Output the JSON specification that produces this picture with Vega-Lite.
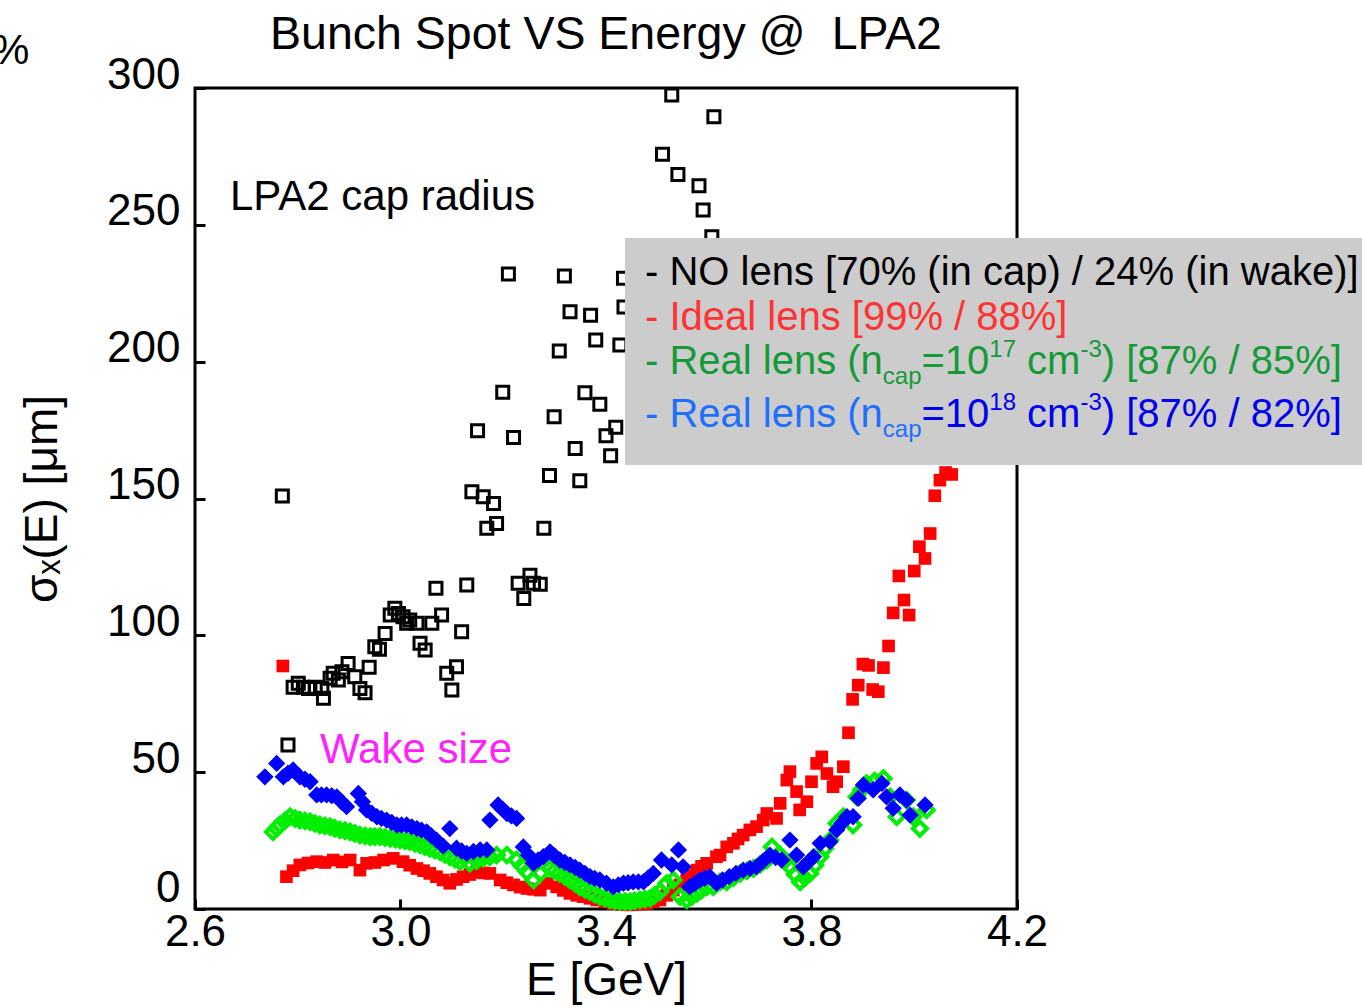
{
  "$schema": "https://vega.github.io/schema/vega-lite/v6.json",
  "width": 822,
  "height": 821,
  "autosize": {"type": "none"},
  "padding": {"left": 195, "top": 88, "right": 345, "bottom": 98},
  "background": "white",
  "config": {
    "view": {"stroke": "black", "strokeWidth": 3},
    "font": "Liberation Sans"
  },
  "title": {
    "text": "Bunch Spot VS Energy @\u00a0 LPA2",
    "fontSize": 46.5,
    "font": "Liberation Sans",
    "fontWeight": "normal",
    "color": "black",
    "anchor": "middle",
    "frame": "group",
    "offset": -28
  },
  "datasets": {
    "noLens": [
      {"E":2.770,"s":150.9},{"E":2.781,"s":59.9},{"E":2.791,"s":81.0},{"E":2.801,"s":82.5},{"E":2.811,"s":81.0},
      {"E":2.821,"s":80.6},{"E":2.834,"s":81.0},{"E":2.847,"s":80.6},{"E":2.850,"s":77.0},{"E":2.863,"s":84.3},
      {"E":2.869,"s":86.1},{"E":2.879,"s":83.7},{"E":2.886,"s":86.7},{"E":2.898,"s":89.7},{"E":2.911,"s":84.9},
      {"E":2.921,"s":80.6},{"E":2.931,"s":79.0},{"E":2.939,"s":88.3},{"E":2.950,"s":95.8},{"E":2.959,"s":94.9},
      {"E":2.970,"s":100.7},{"E":2.980,"s":107.4},{"E":2.989,"s":109.9},{"E":2.996,"s":108.0},{"E":3.005,"s":106.8},
      {"E":3.012,"s":104.4},{"E":3.018,"s":105.6},{"E":3.032,"s":104.4},{"E":3.038,"s":97.1},{"E":3.048,"s":94.6},
      {"E":3.061,"s":104.4},{"E":3.080,"s":107.4},{"E":3.069,"s":117.2},{"E":3.090,"s":86.1},{"E":3.109,"s":88.5},
      {"E":3.100,"s":80.0},{"E":3.119,"s":101.3},{"E":3.129,"s":118.4},{"E":3.139,"s":152.5},{"E":3.161,"s":150.6},
      {"E":3.181,"s":148.2},{"E":3.168,"s":139.1},{"E":3.187,"s":140.9},{"E":3.210,"s":232.0},{"E":3.319,"s":231.3},
      {"E":3.434,"s":230.5},{"E":3.330,"s":218.2},{"E":3.370,"s":217.0},{"E":3.380,"s":207.9},{"E":3.427,"s":206.1},
      {"E":3.435,"s":220.0},{"E":3.309,"s":203.9},{"E":3.199,"s":188.8},{"E":3.359,"s":188.6},{"E":3.388,"s":184.4},
      {"E":3.299,"s":179.9},{"E":3.150,"s":174.8},{"E":3.220,"s":172.3},{"E":3.419,"s":176.0},{"E":3.400,"s":172.9},
      {"E":3.340,"s":168.3},{"E":3.409,"s":165.6},{"E":3.290,"s":158.4},{"E":3.349,"s":156.5},{"E":3.279,"s":139.1},
      {"E":3.252,"s":122.0},{"E":3.229,"s":119.0},{"E":3.272,"s":118.7},{"E":3.259,"s":119.0},{"E":3.240,"s":113.5},
      {"E":3.528,"s":297.4},{"E":3.610,"s":289.5},{"E":3.510,"s":275.8},{"E":3.540,"s":268.4},{"E":3.581,"s":264.3},
      {"E":3.589,"s":255.4},{"E":3.606,"s":245.6}
    ],
    "ideal": [
      {"E":2.771,"s":88.8},{"E":2.778,"s":11.8},{"E":2.791,"s":14.0},{"E":2.804,"s":16.1},{"E":2.820,"s":16.8},{"E":2.837,"s":17.3},{"E":2.853,"s":17.0},{"E":2.869,"s":17.9},
      {"E":2.886,"s":17.2},{"E":2.902,"s":17.9},{"E":2.921,"s":14.2},{"E":2.934,"s":16.7},{"E":2.950,"s":17.0},{"E":2.967,"s":17.9},{"E":2.986,"s":18.5},
      {"E":3.005,"s":17.3},{"E":3.018,"s":16.0},{"E":3.032,"s":14.8},{"E":3.045,"s":14.0},{"E":3.057,"s":13.0},{"E":3.070,"s":11.8},{"E":3.083,"s":10.6},{"E":3.096,"s":9.4},
      {"E":3.109,"s":10.8},{"E":3.122,"s":11.8},{"E":3.135,"s":12.6},{"E":3.148,"s":13.6},{"E":3.161,"s":13.2},{"E":3.174,"s":13.0},{"E":3.194,"s":10.6},{"E":3.207,"s":9.6},{"E":3.220,"s":8.8},
      {"E":3.233,"s":8.0},{"E":3.246,"s":7.5},{"E":3.259,"s":7.2},{"E":3.272,"s":6.9},{"E":3.285,"s":9.4},{"E":3.304,"s":8.1},{"E":3.317,"s":6.8},{"E":3.330,"s":5.7},
      {"E":3.343,"s":5.0},{"E":3.356,"s":4.5},{"E":3.369,"s":3.9},{"E":3.382,"s":3.3},{"E":3.398,"s":2.6},{"E":3.414,"s":2.0},{"E":3.430,"s":1.7},{"E":3.447,"s":1.5},{"E":3.463,"s":1.7},{"E":3.479,"s":2.0},
      {"E":3.492,"s":2.6},{"E":3.505,"s":3.3},{"E":3.518,"s":5.0},{"E":3.531,"s":6.9},{"E":3.544,"s":8.8},{"E":3.557,"s":10.6},{"E":3.567,"s":12.4},{"E":3.577,"s":14.2},{"E":3.586,"s":15.6},{"E":3.596,"s":16.7},
      {"E":3.615,"s":19.1},{"E":3.622,"s":19.7},{"E":3.635,"s":22.7},{"E":3.648,"s":24.0},{"E":3.657,"s":25.6},{"E":3.667,"s":27.0},
      {"E":3.680,"s":28.9},{"E":3.693,"s":30.1},{"E":3.706,"s":32.5},{"E":3.713,"s":34.9},{"E":3.732,"s":33.1},
      {"E":3.739,"s":38.6},{"E":3.752,"s":47.1},{"E":3.758,"s":50.2},{"E":3.771,"s":42.9},{"E":3.777,"s":36.2},
      {"E":3.791,"s":39.2},{"E":3.800,"s":46.5},{"E":3.810,"s":53.2},{"E":3.820,"s":55.6},{"E":3.830,"s":49.5},
      {"E":3.842,"s":44.7},{"E":3.849,"s":46.5},{"E":3.862,"s":52.0},{"E":3.872,"s":64.4},{"E":3.880,"s":76.6},
      {"E":3.891,"s":81.8},{"E":3.900,"s":89.5},{"E":3.911,"s":89.0},{"E":3.919,"s":80.2},{"E":3.930,"s":79.4},
      {"E":3.940,"s":88.2},{"E":3.950,"s":96.1},{"E":3.959,"s":108.2},{"E":3.980,"s":112.9},{"E":3.990,"s":107.4},
      {"E":3.970,"s":121.7},{"E":4.000,"s":123.5},{"E":4.021,"s":128.1},{"E":4.010,"s":132.4},{"E":4.031,"s":137.2},
      {"E":4.040,"s":151.0},{"E":4.050,"s":156.7},{"E":4.061,"s":159.5},{"E":4.073,"s":158.8}
    ],
    "real17": [
      {"E":2.752,"s":28.2},{"E":2.759,"s":29.5},{"E":2.765,"s":30.7},{"E":2.775,"s":32.2},{"E":2.785,"s":33.7},{"E":2.795,"s":33.0},{"E":2.804,"s":32.5},{"E":2.814,"s":32.2},{"E":2.824,"s":31.9},
      {"E":2.833,"s":31.3},{"E":2.843,"s":30.7},{"E":2.853,"s":30.4},{"E":2.863,"s":30.1},{"E":2.872,"s":29.5},{"E":2.882,"s":28.9},{"E":2.892,"s":28.6},{"E":2.902,"s":28.2},{"E":2.911,"s":27.6},{"E":2.921,"s":27.0},
      {"E":2.931,"s":26.7},{"E":2.941,"s":26.4},{"E":2.950,"s":26.4},{"E":2.960,"s":26.4},{"E":2.970,"s":26.1},{"E":2.980,"s":25.8},{"E":2.990,"s":25.5},{"E":2.999,"s":25.2},{"E":3.009,"s":24.9},{"E":3.018,"s":24.6},
      {"E":3.028,"s":24.0},{"E":3.038,"s":23.4},{"E":3.047,"s":22.8},{"E":3.057,"s":22.2},{"E":3.067,"s":21.5},{"E":3.077,"s":20.9},{"E":3.086,"s":20.0},{"E":3.096,"s":19.1},{"E":3.106,"s":18.2},{"E":3.116,"s":17.3},
      {"E":3.135,"s":16.7},{"E":3.148,"s":17.6},{"E":3.161,"s":18.5},{"E":3.174,"s":19.1},{"E":3.187,"s":19.7},{"E":3.207,"s":19.7},{"E":3.226,"s":17.9},
      {"E":3.236,"s":15.8},{"E":3.246,"s":13.6},{"E":3.259,"s":10.6},{"E":3.272,"s":13.0},{"E":3.291,"s":14.8},{"E":3.300,"s":14.0},{"E":3.310,"s":13.0},
      {"E":3.320,"s":11.8},{"E":3.330,"s":10.6},{"E":3.340,"s":9.4},{"E":3.349,"s":8.1},{"E":3.359,"s":7.2},{"E":3.369,"s":6.3},{"E":3.378,"s":5.4},{"E":3.388,"s":4.5},{"E":3.398,"s":3.9},{"E":3.408,"s":3.3},
      {"E":3.417,"s":3.0},{"E":3.427,"s":2.7},{"E":3.437,"s":2.7},{"E":3.447,"s":2.7},{"E":3.456,"s":3.0},{"E":3.466,"s":3.3},{"E":3.476,"s":3.6},{"E":3.486,"s":3.9},{"E":3.495,"s":5.1},{"E":3.505,"s":6.3},
      {"E":3.518,"s":9.4},{"E":3.531,"s":10.6},{"E":3.544,"s":4.5},{"E":3.557,"s":3.3},{"E":3.567,"s":4.5},{"E":3.577,"s":5.7},{"E":3.586,"s":6.9},
      {"E":3.596,"s":8.1},{"E":3.609,"s":8.1},{"E":3.622,"s":9.9},{"E":3.635,"s":9.9},{"E":3.648,"s":11.5},{"E":3.661,"s":13.0},{"E":3.674,"s":13.9},
      {"E":3.687,"s":14.8},{"E":3.700,"s":16.3},{"E":3.713,"s":17.9},{"E":3.723,"s":22.7},{"E":3.739,"s":19.7},{"E":3.748,"s":17.5},{"E":3.758,"s":15.4},
      {"E":3.768,"s":12.6},{"E":3.778,"s":9.9},{"E":3.787,"s":11.4},{"E":3.797,"s":13.0},{"E":3.807,"s":16.0},{"E":3.817,"s":19.1},{"E":3.826,"s":22.1},{"E":3.836,"s":25.2},{"E":3.849,"s":31.3},
      {"E":3.862,"s":33.7},{"E":3.881,"s":30.7},{"E":3.888,"s":41.0},{"E":3.897,"s":43.5},{"E":3.907,"s":45.9},{"E":3.923,"s":46.8},{"E":3.940,"s":47.7},
      {"E":3.953,"s":41.0},{"E":3.966,"s":33.7},{"E":3.985,"s":39.8},{"E":3.998,"s":33.7},{"E":4.011,"s":29.4},
      {"E":4.024,"s":36.2}
    ],
    "real18": [
      {"E":2.736,"s":48.3},{"E":2.759,"s":53.2},{"E":2.772,"s":48.3},{"E":2.781,"s":49.6},{"E":2.791,"s":50.8},{"E":2.804,"s":48.3},{"E":2.814,"s":47.4},
      {"E":2.824,"s":46.5},{"E":2.837,"s":41.7},{"E":2.846,"s":41.7},{"E":2.856,"s":41.7},{"E":2.866,"s":41.4},{"E":2.876,"s":41.0},{"E":2.885,"s":39.2},{"E":2.895,"s":37.4},
      {"E":2.918,"s":42.2},{"E":2.926,"s":39.2},{"E":2.934,"s":36.2},{"E":2.944,"s":35.0},{"E":2.954,"s":33.7},{"E":2.963,"s":33.1},{"E":2.973,"s":32.5},{"E":2.983,"s":31.6},{"E":2.993,"s":30.7},
      {"E":3.002,"s":30.7},{"E":3.012,"s":30.7},{"E":3.022,"s":30.0},{"E":3.032,"s":29.4},{"E":3.041,"s":28.8},{"E":3.051,"s":28.2},{"E":3.060,"s":26.7},{"E":3.070,"s":25.2},{"E":3.083,"s":23.0},{"E":3.096,"s":29.4},
      {"E":3.109,"s":22.2},{"E":3.119,"s":21.2},{"E":3.129,"s":20.3},{"E":3.142,"s":21.0},{"E":3.155,"s":21.6},{"E":3.168,"s":21.6},{"E":3.174,"s":32.5},
      {"E":3.190,"s":38.0},{"E":3.199,"s":36.4},{"E":3.207,"s":34.9},{"E":3.216,"s":34.0},{"E":3.226,"s":33.1},{"E":3.239,"s":22.7},{"E":3.249,"s":19.7},{"E":3.259,"s":16.7},
      {"E":3.268,"s":17.9},{"E":3.278,"s":19.1},{"E":3.291,"s":20.9},{"E":3.300,"s":19.4},{"E":3.310,"s":17.9},{"E":3.320,"s":17.0},{"E":3.330,"s":16.1},{"E":3.340,"s":15.2},{"E":3.349,"s":14.2},
      {"E":3.359,"s":13.0},{"E":3.369,"s":11.8},{"E":3.378,"s":11.2},{"E":3.388,"s":10.6},{"E":3.401,"s":9.4},{"E":3.414,"s":8.1},{"E":3.424,"s":8.8},{"E":3.434,"s":9.4},{"E":3.443,"s":9.6},{"E":3.453,"s":9.9},
      {"E":3.463,"s":9.9},{"E":3.473,"s":9.9},{"E":3.482,"s":11.4},{"E":3.492,"s":13.0},{"E":3.508,"s":17.9},{"E":3.528,"s":16.1},{"E":3.541,"s":21.6},
      {"E":3.550,"s":15.4},{"E":3.563,"s":8.1},{"E":3.573,"s":9.3},{"E":3.583,"s":10.6},{"E":3.592,"s":11.2},{"E":3.602,"s":11.8},{"E":3.615,"s":9.4},{"E":3.627,"s":10.6},
      {"E":3.640,"s":11.8},{"E":3.653,"s":13.0},{"E":3.667,"s":14.2},{"E":3.680,"s":14.8},{"E":3.693,"s":15.4},{"E":3.706,"s":17.5},{"E":3.719,"s":19.7},{"E":3.730,"s":18.8},{"E":3.742,"s":17.9},
      {"E":3.758,"s":25.2},{"E":3.771,"s":19.7},{"E":3.784,"s":15.4},{"E":3.794,"s":17.2},{"E":3.804,"s":19.1},{"E":3.817,"s":24.0},
      {"E":3.836,"s":24.6},{"E":3.849,"s":28.9},{"E":3.859,"s":31.3},{"E":3.869,"s":33.7},{"E":3.881,"s":33.7},{"E":3.891,"s":40.4},
      {"E":3.901,"s":45.3},{"E":3.920,"s":43.5},{"E":3.937,"s":45.9},{"E":3.946,"s":41.0},{"E":3.959,"s":36.8},
      {"E":3.972,"s":41.7},{"E":3.985,"s":39.8},{"E":3.992,"s":34.3},{"E":4.021,"s":38.0}
    ],
    "box": [{"E":3.437,"E2":4.9,"s":162.2,"s2":245.2}],
    "legendMain": [
      {"E":3.4759,"s":228.17,"t":"- NO lens [70% (in cap) / 24% (in wake)]","tone":"black"},
      {"E":3.4759,"s":211.55,"t":"- Ideal lens [99% / 88%]","tone":"red"},
      {"E":3.4759,"s":195.47,"t":"- Real lens (n","tone":"green"},
      {"E":4.0141,"s":195.47,"t":"=10","tone":"green"},
      {"E":4.2197,"s":195.47,"t":"cm","tone":"green"},
      {"E":4.3649,"s":195.47,"t":") [87% / 85%]","tone":"green"},
      {"E":3.4759,"s":176.11,"t":"- Real lens (n","tone":"lightblue"},
      {"E":4.0141,"s":176.11,"t":"=10","tone":"blue"},
      {"E":4.2197,"s":176.11,"t":"cm","tone":"blue"},
      {"E":4.3649,"s":176.11,"t":") [87% / 82%]","tone":"blue"}
    ],
    "legendScript": [
      {"E":3.9388,"s":191.82,"t":"cap","tone":"green"},
      {"E":4.1461,"s":201.68,"t":"17","tone":"green"},
      {"E":4.3234,"s":201.68,"t":"-3","tone":"green"},
      {"E":3.9388,"s":172.45,"t":"cap","tone":"lightblue"},
      {"E":4.1461,"s":182.32,"t":"18","tone":"blue"},
      {"E":4.3234,"s":182.32,"t":"-3","tone":"blue"}
    ],
    "notes": [
      {"E":2.6681,"s":255.4,"t":"LPA2 cap radius","tone":"black"},
      {"E":2.8433,"s":53.35,"t":"Wake size","tone":"magenta"},
      {"E":2.2049,"s":308.7,"t":"%","tone":"black"}
    ]
  },
  "layer": [
    {
      "data": {"name": "noLens"},
      "mark": {"type": "point", "shape": "square", "filled": false, "stroke": "black", "strokeWidth": 3, "size": 144, "opacity": 1},
      "encoding": {
        "x": {
          "field": "E", "type": "quantitative",
          "scale": {"domain": [2.6, 4.2], "nice": false, "zero": false},
          "axis": {
            "title": "E [GeV]",
            "values": [2.6, 3.0, 3.4, 3.8, 4.2],
            "format": ".1f",
            "domain": false,
            "grid": false,
            "ticks": true,
            "labelFlush": false,
            "labelOverlap": false,
            "labelFont": "Liberation Sans",
            "labelFontSize": 44,
            "labelColor": "black",
            "labelPadding": 11,
            "tickSize": -10,
            "tickWidth": 3,
            "tickColor": "black",
            "tickOpacity": 1,
            "titleFont": "Liberation Sans",
            "titleFontSize": 46,
            "titleFontWeight": "normal",
            "titleColor": "black",
            "titlePadding": 4
          }
        },
        "y": {
          "field": "s", "type": "quantitative",
          "scale": {"domain": [0, 300], "nice": false, "zero": false},
          "axis": {
            "title": "σₓ(E) [μm]",
            "values": [0, 50, 100, 150, 200, 250, 300],
            "domain": false,
            "grid": false,
            "ticks": true,
            "labelOverlap": false,
            "labelFlush": false,
            "labelFont": "Liberation Sans",
            "labelFontSize": 44,
            "labelColor": "black",
            "labelPadding": 25,
            "labelOffset": {"condition": {"test": "datum.value == 0", "value": -21}, "value": -13},
            "tickSize": -10,
            "tickWidth": 3,
            "tickColor": "black",
            "tickOpacity": 1,
            "titleFont": "Liberation Sans",
            "titleFontSize": 46,
            "titleFontWeight": "normal",
            "titleColor": "black",
            "titlePadding": 40
          }
        }
      }
    },
    {
      "data": {"name": "ideal"},
      "mark": {"type": "square", "color": "#ff0000", "size": 160, "opacity": 1},
      "encoding": {
        "x": {"field": "E", "type": "quantitative"},
        "y": {"field": "s", "type": "quantitative"}
      }
    },
    {
      "data": {"name": "real17"},
      "mark": {"type": "point", "shape": "diamond", "filled": false, "stroke": "#00ee00", "strokeWidth": 4, "size": 200, "opacity": 1},
      "encoding": {
        "x": {"field": "E", "type": "quantitative"},
        "y": {"field": "s", "type": "quantitative"}
      }
    },
    {
      "data": {"name": "real18"},
      "mark": {"type": "point", "shape": "diamond", "filled": true, "color": "#0000ff", "size": 300, "opacity": 1},
      "encoding": {
        "x": {"field": "E", "type": "quantitative"},
        "y": {"field": "s", "type": "quantitative"}
      }
    },
    {
      "mark": {"type": "rule", "color": "black", "strokeWidth": 3, "strokeDash": [6, 4]},
      "encoding": {"y": {"datum": 250}}
    },
    {
      "mark": {"type": "rule", "color": "#ff00ff", "strokeWidth": 3, "strokeDash": [6, 5]},
      "encoding": {"y": {"datum": 70}}
    },
    {
      "data": {"name": "box"},
      "mark": {"type": "rect", "color": "#cccccc", "opacity": 1},
      "encoding": {
        "x": {"field": "E", "type": "quantitative"},
        "x2": {"field": "E2"},
        "y": {"field": "s", "type": "quantitative"},
        "y2": {"field": "s2"}
      }
    },
    {
      "data": {"name": "legendMain"},
      "mark": {"type": "text", "align": "left", "baseline": "alphabetic", "font": "Liberation Sans", "fontSize": 40},
      "encoding": {
        "x": {"field": "E", "type": "quantitative"},
        "y": {"field": "s", "type": "quantitative"},
        "text": {"field": "t"},
        "color": {
          "field": "tone", "type": "nominal", "legend": null,
          "scale": {"domain": ["black", "red", "green", "lightblue", "blue", "magenta"], "range": ["#000000", "#ff3333", "#159a38", "#1f6fff", "#0000ee", "#ff22ff"]}
        }
      }
    },
    {
      "data": {"name": "legendScript"},
      "mark": {"type": "text", "align": "left", "baseline": "alphabetic", "font": "Liberation Sans", "fontSize": 24},
      "encoding": {
        "x": {"field": "E", "type": "quantitative"},
        "y": {"field": "s", "type": "quantitative"},
        "text": {"field": "t"},
        "color": {"field": "tone", "type": "nominal", "legend": null}
      }
    },
    {
      "data": {"name": "notes"},
      "mark": {"type": "text", "align": "left", "baseline": "alphabetic", "font": "Liberation Sans", "fontSize": 42},
      "encoding": {
        "x": {"field": "E", "type": "quantitative"},
        "y": {"field": "s", "type": "quantitative"},
        "text": {"field": "t"},
        "color": {"field": "tone", "type": "nominal", "legend": null}
      }
    }
  ]
}
